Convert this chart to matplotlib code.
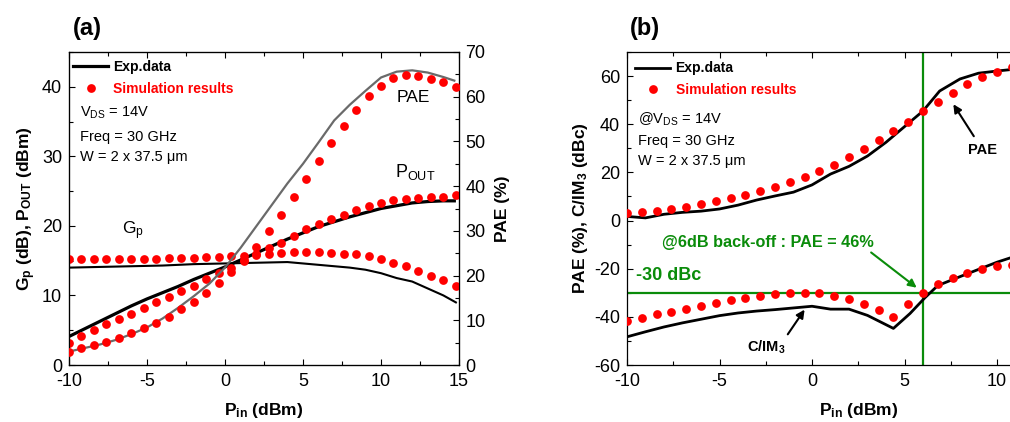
import matplotlib
matplotlib.use("Agg")
import matplotlib.pyplot as plt
from matplotlib.ticker import MultipleLocator

plt.rcParams['font.family'] = ['Liberation Sans', 'DejaVu Sans']
plt.rcParams['mathtext.fontset'] = 'custom'
plt.rcParams['mathtext.rm'] = 'Liberation Sans'
plt.rcParams['mathtext.it'] = 'Liberation Sans:italic'
plt.rcParams['mathtext.bf'] = 'Liberation Sans:bold'
plt.rcParams['axes.unicode_minus'] = False

# ---------------- data: panel (a) ----------------
exp_x_pae_a = [-10, -9, -8, -7, -6, -5, -4, -3, -2, -1, 0, 1, 2, 3, 4, 5, 6, 7, 8, 9, 10, 11, 12, 13, 14, 14.7]
exp_pae_a = [3.0, 3.8, 4.6, 5.6, 6.9, 8.4, 10.4, 12.8, 15.4, 18.2, 21.8, 26.2, 31.0, 35.8, 40.6, 45.0,
             49.8, 54.7, 58.2, 61.3, 64.3, 65.6, 65.9, 65.4, 64.4, 63.6]
exp_x_pout = [-10, -9, -8, -7, -6, -5, -4, -3, -2, -1, 0, 1, 2, 3, 4, 5, 6, 7, 8, 9, 10, 11, 12, 13, 14, 14.7]
exp_pout = [4.1, 5.2, 6.3, 7.4, 8.5, 9.5, 10.4, 11.3, 12.3, 13.2, 14.1, 15.1, 16.1, 17.1, 18.1, 19.0,
            19.9, 20.6, 21.3, 21.9, 22.5, 22.9, 23.3, 23.5, 23.6, 23.6]
exp_x_gp = [-10, -8, -6, -4, -2, 0, 2, 4, 6, 8, 9, 10, 11, 12, 13, 14, 14.8]
exp_gp = [14.0, 14.1, 14.2, 14.3, 14.5, 14.6, 14.7, 14.8, 14.4, 14.0, 13.7, 13.2, 12.5, 12.0, 11.0, 10.0, 9.0]

sim_x = [-10.0, -9.2, -8.4, -7.6, -6.8, -6.0, -5.2, -4.4, -3.6, -2.8, -2.0, -1.2, -0.4, 0.4, 1.2, 2.0,
         2.8, 3.6, 4.4, 5.2, 6.0, 6.8, 7.6, 8.4, 9.2, 10.0, 10.8, 11.6, 12.4, 13.2, 14.0, 14.8]
sim_gp = [15.2, 15.2, 15.2, 15.2, 15.2, 15.2, 15.3, 15.3, 15.35, 15.35, 15.4, 15.5, 15.5, 15.6, 15.6, 15.8,
          16.0, 16.1, 16.2, 16.2, 16.2, 16.1, 16.0, 15.9, 15.6, 15.2, 14.7, 14.2, 13.5, 12.8, 12.2, 11.4]
sim_pout = [3.2, 4.1, 5.0, 5.9, 6.6, 7.4, 8.2, 9.0, 9.8, 10.6, 11.4, 12.3, 13.2, 13.9, 14.9, 15.9,
            16.8, 17.6, 18.6, 19.5, 20.2, 21.0, 21.6, 22.3, 22.8, 23.3, 23.7, 23.9, 24.0, 24.1, 24.2, 24.4]
sim_pae_a = [3.0, 3.9, 4.5, 5.1, 6.1, 7.1, 8.2, 9.5, 10.8, 12.6, 14.2, 16.2, 18.4, 20.9, 23.5, 26.5,
             30.0, 33.6, 37.6, 41.6, 45.7, 49.7, 53.5, 57.0, 60.2, 62.4, 64.1, 64.9, 64.6, 64.0, 63.2, 62.2]

# ---------------- data: panel (b) ----------------
exp_x_pae_b = [-10, -9, -8, -7, -6, -5, -4, -3, -2, -1, 0, 1, 2, 3, 4, 5, 6, 6.9, 8, 9, 10, 11, 12]
exp_pae_b = [1.7, 1.1, 2.6, 3.4, 3.9, 4.8, 6.4, 8.5, 10.2, 11.8, 14.8, 19.3, 22.5, 26.8, 32.5, 39.0,
             45.5, 53.8, 58.8, 61.2, 62.1, 62.9, 63.4]
exp_x_cim = [-10, -9, -8, -7, -6, -5, -4, -3, -2, -1, 0, 1, 2, 3, 4.4, 5.3, 6.1, 6.8, 8, 9, 10, 11, 12]
exp_cim = [-48.3, -46.2, -44.2, -42.5, -41.0, -39.5, -38.4, -37.6, -37.0, -36.3, -35.6, -36.8, -36.8,
           -39.4, -44.8, -38.6, -32.1, -27.0, -23.3, -20.3, -17.3, -14.8, -12.5]
sim_x_b = [-10.0, -9.2, -8.4, -7.6, -6.8, -6.0, -5.2, -4.4, -3.6, -2.8, -2.0, -1.2, -0.4, 0.4, 1.2, 2.0,
           2.8, 3.6, 4.4, 5.2, 6.0, 6.8, 7.6, 8.4, 9.2, 10.0, 10.8, 11.6]
sim_pae_b = [3.0, 3.4, 4.1, 4.8, 5.5, 6.9, 8.0, 9.2, 10.6, 12.1, 14.1, 15.9, 17.9, 20.4, 23.0, 26.2,
             29.7, 33.4, 37.2, 41.1, 45.6, 49.3, 53.1, 56.6, 59.5, 61.9, 63.7, 64.6]
sim_cim = [-41.7, -40.3, -39.0, -37.9, -36.6, -35.3, -34.2, -33.1, -32.3, -31.4, -30.6, -30.2, -29.9,
           -30.3, -31.4, -32.7, -34.5, -37.0, -40.0, -34.5, -30.3, -26.2, -23.7, -21.6, -20.3, -19.0,
           -18.3, -17.6]

backoff_x = 6
limit_y = -30

RED = '#ff0000'
GREEN = '#0a8c0a'
GRAY = '#6a6a6a'
TICK_FS = 13
LAB_FS = 12.5
MS = 6.3


def style_ax(ax, right=True):
    ax.tick_params(which='both', direction='in', top=True, right=right, labelsize=TICK_FS, width=0.8)
    ax.tick_params(axis='x', which='both', pad=6)
    ax.tick_params(axis='y', which='both', pad=5)
    ax.tick_params(which='major', length=4)
    ax.tick_params(which='minor', length=3)
    for s in ax.spines.values():
        s.set_linewidth(0.9)


def make_legend(ax, x0, y0):
    leg = ax.legend(loc='upper left', bbox_to_anchor=(x0, y0), frameon=False,
                    prop={'weight': 'bold', 'size': 10}, handlelength=2.5, handletextpad=0.4,
                    borderaxespad=0.0, borderpad=0.3, labelspacing=0.55, numpoints=1)
    leg.get_texts()[1].set_color(RED)
    return leg


fig = plt.figure(figsize=(10.1, 4.22), dpi=100)

# ---------------- panel (a) ----------------
axa = fig.add_axes([69 / 1010, 1 - 365 / 422, 390 / 1010, 313 / 422])
axa2 = axa.twinx()

axa.plot(exp_x_pout, exp_pout, color='black', lw=2.3, zorder=3, label='Exp.data')
axa.plot(exp_x_gp, exp_gp, color='black', lw=1.5, zorder=3)
axa.plot(sim_x, sim_gp, 'o', color=RED, ms=MS, mec='none', zorder=4, label='Simulation results')
axa.plot(sim_x, sim_pout, 'o', color=RED, ms=MS, mec='none', zorder=4)
axa2.plot(exp_x_pae_a, exp_pae_a, color=GRAY, lw=1.6, zorder=3)
axa2.plot(sim_x, sim_pae_a, 'o', color=RED, ms=MS, mec='none', zorder=4)

axa.set_xlim(-10, 15)
axa.set_ylim(0, 45)
axa2.set_ylim(0, 70)
axa.xaxis.set_major_locator(MultipleLocator(5))
axa.xaxis.set_minor_locator(MultipleLocator(2.5))
axa.yaxis.set_major_locator(MultipleLocator(10))
axa.yaxis.set_minor_locator(MultipleLocator(5))
axa2.yaxis.set_major_locator(MultipleLocator(10))
axa2.yaxis.set_minor_locator(MultipleLocator(5))
style_ax(axa, right=False)
axa2.tick_params(which='both', direction='in', labelsize=TICK_FS, width=0.8, pad=4.5)
axa2.tick_params(which='major', length=4)
axa2.tick_params(which='minor', length=3)

axa.set_xlabel(r'$\mathbf{P_{in}}$ (dBm)', fontsize=LAB_FS, fontweight='bold', labelpad=8)
axa.set_ylabel(r'$\mathbf{G_p}$ (dB), $\mathbf{P_{OUT}}$ (dBm)', fontsize=LAB_FS, fontweight='bold', labelpad=3)
axa2.set_ylabel('PAE (%)', fontsize=LAB_FS, fontweight='bold', labelpad=7)

make_legend(axa, 0.0, 0.988)

axa.text(-9.3, 36.3, r'V$_\mathrm{DS}$ = 14V', fontsize=10.5, va='center')
axa.text(-9.3, 32.8, 'Freq = 30 GHz', fontsize=10.5, va='center')
axa.text(-9.3, 29.9, 'W = 2 x 37.5 μm', fontsize=10.5, va='center')
axa.text(12.1, 38.4, 'PAE', fontsize=12.5, ha='center', va='center')
axa.text(12.2, 27.8, r'P$_\mathrm{OUT}$', fontsize=13, ha='center', va='center')
axa.text(-5.9, 19.3, r'G$_\mathrm{p}$', fontsize=12.5, ha='center', va='center')

fig.text(73 / 1010, 1 - 29 / 422, '(a)', fontsize=17, fontweight='bold', ha='left', va='center')

# ---------------- panel (b) ----------------
axb = fig.add_axes([627 / 1010, 1 - 365 / 422, 462.5 / 1010, 313 / 422])
axb.plot(exp_x_pae_b, exp_pae_b, color='black', lw=2.0, zorder=3, label='Exp.data')
axb.plot(exp_x_cim, exp_cim, color='black', lw=2.0, zorder=3)
axb.plot(sim_x_b, sim_pae_b, 'o', color=RED, ms=MS, mec='none', zorder=4, label='Simulation results')
axb.plot(sim_x_b, sim_cim, 'o', color=RED, ms=MS, mec='none', zorder=4)
axb.axvline(backoff_x, color=GREEN, lw=1.6, zorder=2)
axb.axhline(limit_y, color=GREEN, lw=1.6, zorder=2)

axb.set_xlim(-10, 15)
axb.set_ylim(-60, 70)
axb.xaxis.set_major_locator(MultipleLocator(5))
axb.xaxis.set_minor_locator(MultipleLocator(2.5))
axb.yaxis.set_major_locator(MultipleLocator(20))
axb.yaxis.set_minor_locator(MultipleLocator(10))
style_ax(axb)
axb.set_xlabel(r'$\mathbf{P_{in}}$ (dBm)', fontsize=LAB_FS, fontweight='bold', labelpad=8)
axb.set_ylabel(r'PAE (%), C/IM$\mathbf{_3}$ (dBc)', fontsize=LAB_FS, fontweight='bold', labelpad=3)

make_legend(axb, 0.009, 0.983)

axb.text(-9.4, 42.2, r'@V$_\mathrm{DS}$ = 14V', fontsize=10.5, va='center')
axb.text(-9.4, 33.0, 'Freq = 30 GHz', fontsize=10.5, va='center')
axb.text(-9.4, 24.8, 'W = 2 x 37.5 μm', fontsize=10.5, va='center')

axb.annotate('PAE', xy=(7.64, 48.3), xytext=(9.2, 29.5), fontsize=10.5, fontweight='bold',
             ha='center', va='center',
             arrowprops=dict(arrowstyle='-|>', color='black', lw=1.5, mutation_scale=12,
                             shrinkA=3, shrinkB=0, relpos=(0.35, 1.0)))
axb.annotate(r'C/IM$\mathbf{_3}$', xy=(-0.4, -37.0), xytext=(-2.45, -52.5), fontsize=10.5,
             fontweight='bold', ha='center', va='center',
             arrowprops=dict(arrowstyle='-|>', color='black', lw=1.5, mutation_scale=12,
                             shrinkA=1, shrinkB=0, relpos=(0.98, 1.0)))
axb.annotate('@6dB back-off : PAE = 46%', xy=(5.66, -27.9), xytext=(-8.1, -9.0), fontsize=11.7,
             fontweight='bold', color=GREEN, ha='left', va='center',
             arrowprops=dict(arrowstyle='-|>', color=GREEN, lw=1.5, mutation_scale=12,
                             shrinkA=0, shrinkB=0, relpos=(0.97, 0.0)))
axb.text(-9.5, -23.0, '-30 dBc', fontsize=13, fontweight='bold', color=GREEN, va='center')

fig.text(630 / 1010, 1 - 29 / 422, '(b)', fontsize=17, fontweight='bold', ha='left', va='center')

fig.savefig('out.png', dpi=100)
